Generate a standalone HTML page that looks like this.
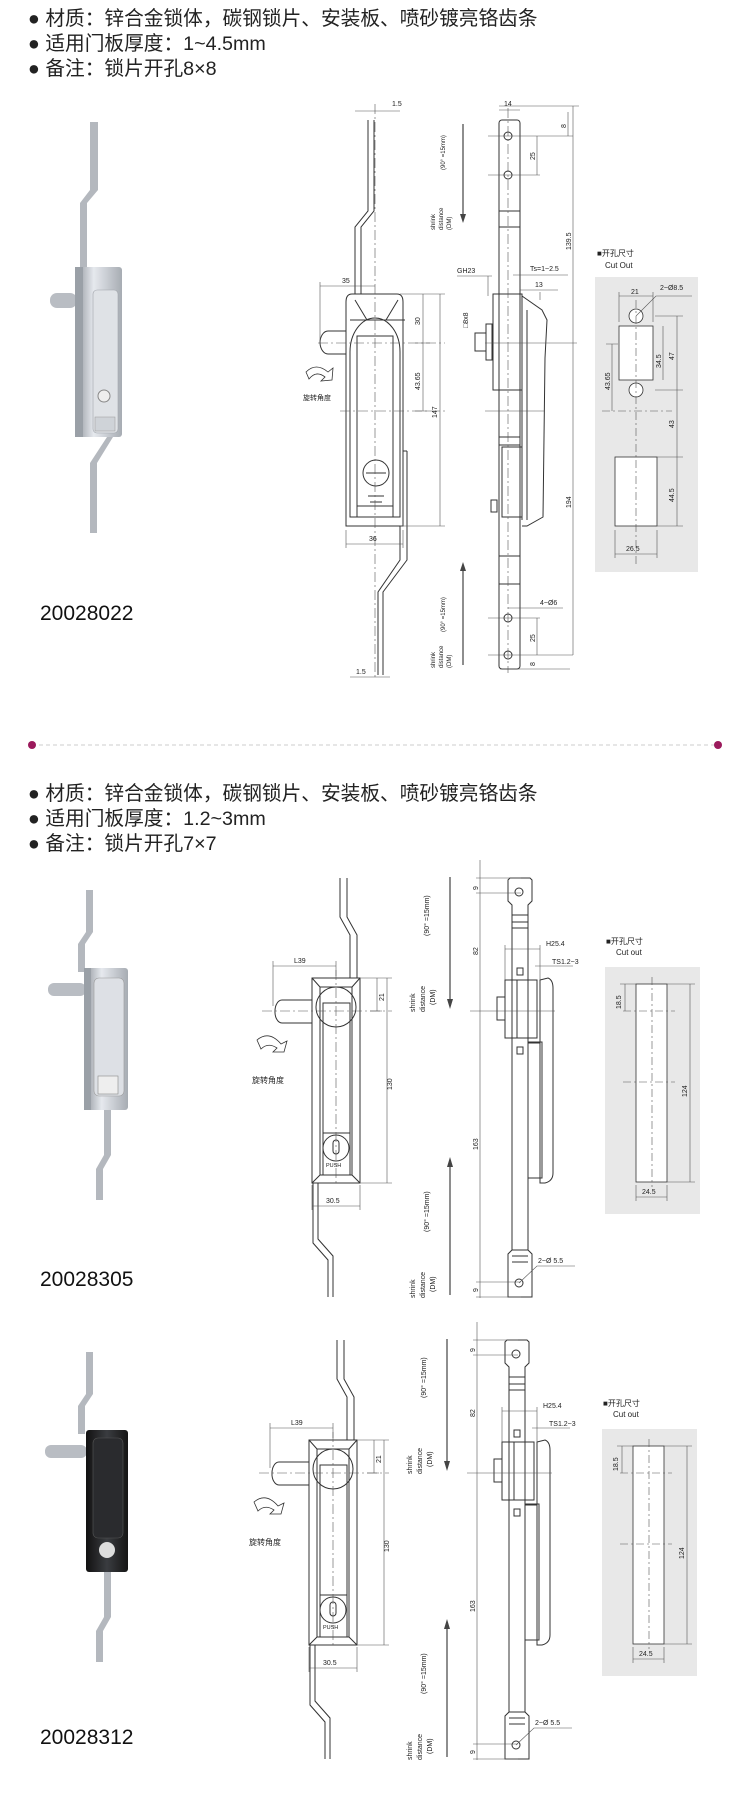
<!DOCTYPE html>
<html><head><meta charset="utf-8"><style>
body{margin:0;background:#fff;width:750px;height:1800px;overflow:hidden;position:relative;font-family:"Liberation Sans","Noto Sans CJK SC",sans-serif}
.t{position:absolute;left:28px;font-size:19.7px;line-height:25px;color:#222;white-space:nowrap}
.lab{position:absolute;left:40px;font-size:21px;color:#111}
svg{position:absolute;left:0;top:0}
svg text{font-family:"Liberation Sans","Noto Sans CJK SC",sans-serif;fill:#222}
</style></head><body>
<div class="t" style="top:7px">● 材质：锌合金锁体，碳钢锁片、安装板、喷砂镀亮铬齿条<br>● 适用门板厚度：1~4.5mm<br>● 备注：锁片开孔8×8</div>
<div class="lab" style="top:602px">20028022</div>
<div class="t" style="top:782px">● 材质：锌合金锁体，碳钢锁片、安装板、喷砂镀亮铬齿条<br>● 适用门板厚度：1.2~3mm<br>● 备注：锁片开孔7×7</div>
<div class="lab" style="top:1268px">20028305</div>
<div class="lab" style="top:1726px">20028312</div>
<svg width="750" height="1800" viewBox="0 0 750 1800">
<defs>
<linearGradient id="sv" x1="0" x2="1"><stop offset="0" stop-color="#8d9299"/><stop offset=".4" stop-color="#e6e9ee"/><stop offset="1" stop-color="#a7acb3"/></linearGradient>
<linearGradient id="bk" x1="0" x2="1"><stop offset="0" stop-color="#111"/><stop offset=".5" stop-color="#3a3c40"/><stop offset="1" stop-color="#151515"/></linearGradient>
</defs>
<line x1="32" y1="745" x2="718" y2="745" stroke="#ccc" stroke-dasharray="4 3"/>
<circle cx="32" cy="745" r="4" fill="#9b1a5c"/><circle cx="718" cy="745" r="4" fill="#9b1a5c"/>

<path d="M90 122h8v68l-11 13v64h-7v-64l10-13z" fill="#b4b8be"/>
<path d="M107 437h6l-16 26v70h-7v-70z" fill="#b4b8be"/>
<rect x="50" y="293" width="27" height="15" rx="7" fill="#b9bdc3"/>
<rect x="75" y="267" width="47" height="170" rx="3" fill="url(#sv)"/>
<rect x="75" y="267" width="8" height="170" fill="#9aa0a7"/>
<rect x="93" y="290" width="25" height="143" rx="4" fill="#dfe2e6" stroke="#a0a4aa" stroke-width=".6"/>
<circle cx="104" cy="396" r="6" fill="#eee" stroke="#888"/>
<rect x="95" y="417" width="20" height="14" fill="#cfd3d8" stroke="#999" stroke-width=".5"/>

<g fill="none" stroke="#333" stroke-width="1">
<path d="M368 120v91l-13 16v67M374 120v91l-13 16v67"/>
<path d="M400 526v34l-22 32v83M407 451v109l-24 32v83"/>
<path d="M403 451h4"/>
<path d="M352 294h45q6 0 6 8v224h-57v-224q0-8 6-8z"/>
<path d="M355 300l12 20M398 300l-12 20M350 320h55"/>
<path d="M350 352a25 34 0 0 1 50 0v165h-50z"/>
<path d="M357 336h36v181h-36z"/>
<path d="M320 343a8 12 0 0 1 8-12h18v23h-18a8 12 0 0 1-8-11z"/>
<circle cx="376" cy="473" r="13"/>
<path d="M366 473h20M368 496h16M370 502h12M357 506h36"/>
<g stroke="#555" stroke-width=".6">
<path d="M375 104v575" stroke-dasharray="10 3 2 3"/>
<path d="M318 343h127M340 411h105" stroke-dasharray="10 3 2 3"/>
<path d="M440 294v232M423 294v117M400 294h45M400 526h45M415 343h15M415 411h15"/>
<path d="M320 286h55M320 282v60M346 544h57M346 530v18M403 530v18"/>
<path d="M355 111h45M350 677h40"/></g>
</g>
<g font-size="7"><text x="392" y="106">1.5</text><text x="342" y="283">35</text><text x="369" y="541">36</text><text x="356" y="674">1.5</text>
<text transform="translate(420,325) rotate(-90)">30</text>
<text transform="translate(420,390) rotate(-90)">43.65</text>
<text transform="translate(437,418) rotate(-90)">147</text></g>
<path d="M306 372q10-10 22 0l5-4-1 12-11 1 4-4q-9-7-16 2z" fill="#fff" stroke="#333" stroke-width=".8"/>
<text x="303" y="400" font-size="7">旋转角度</text>
<g stroke="#444" stroke-width="1.2"><path d="M463 124v92M463 570v95"/></g>
<path d="M460 214l3 9 3-9zM460 571l3-9 3 9z" fill="#444"/>
<g font-size="6"><text transform="translate(445,170) rotate(-90)">(90° =15mm)</text><text transform="translate(435,230) rotate(-90)">shrink</text><text transform="translate(443,230) rotate(-90)">distance</text><text transform="translate(451,230) rotate(-90)">(DM)</text>
<text transform="translate(445,632) rotate(-90)">(90° =15mm)</text><text transform="translate(435,668) rotate(-90)">shrink</text><text transform="translate(443,668) rotate(-90)">distance</text><text transform="translate(451,668) rotate(-90)">(DM)</text></g>

<g fill="none" stroke="#333">
<rect x="499" y="120" width="21" height="549" rx="3"/>
<circle cx="508" cy="136" r="4"/><circle cx="508" cy="175" r="4"/><circle cx="508" cy="618" r="4"/><circle cx="508" cy="655" r="4"/>
<path d="M499 211h21M499 227h21M499 437h21M499 445h21M499 556h21M499 584h21"/>
<rect x="493" y="294" width="29" height="96"/>
<path d="M522 296l20 14 5 10-2 38 -2 159-16 9h-5"/>
<path d="M522 300v220M527 310v210"/>
<rect x="502" y="447" width="20" height="70"/>
<rect x="491" y="500" width="6" height="12"/>
<rect x="486" y="324" width="6" height="36"/><rect x="475" y="333" width="11" height="18"/>
<g stroke="#555" stroke-width=".6"><path d="M508 108v565" stroke-dasharray="10 3 2 3"/>
<path d="M573 106v549M485 343h92M488 136h85M488 175h52M537 136v39M488 618h52M537 618v37M485 411h60M488 655h85M568 112v24M500 669h70M499 106h80"/>
<path d="M457 276h35M488 276v20M513 275h55M520 290h38M499 110h21M540 292v8M563 608h-55"/></g>
</g>
<g font-size="7"><text x="504" y="106">14</text><text x="457" y="273">GH23</text><text x="530" y="271">Ts=1~2.5</text><text x="535" y="287">13</text><text x="540" y="605">4~Ø6</text>
<text transform="translate(571,250) rotate(-90)">139.5</text><text transform="translate(571,508) rotate(-90)">194</text>
<text transform="translate(535,160) rotate(-90)">25</text><text transform="translate(535,642) rotate(-90)">25</text>
<text transform="translate(566,128) rotate(-90)">8</text><text transform="translate(535,666) rotate(-90)">8</text>
<text transform="translate(468,328) rotate(-90)">□8x8</text></g>
<text x="597" y="256" font-size="8">■开孔尺寸</text><text x="605" y="268" font-size="8">Cut Out</text>
<rect x="595" y="277" width="103" height="295" fill="#e8e8e8"/>
<g fill="#fff" stroke="#333" stroke-width=".8"><rect x="619" y="326" width="34" height="54"/><rect x="615" y="457" width="42" height="69"/><circle cx="636" cy="316" r="7"/><circle cx="636" cy="390" r="7"/></g>
<g stroke="#555" stroke-width=".6" fill="none"><path d="M636 300v265M602 411h70" stroke-dasharray="8 3 2 3"/>
<path d="M663 326v54M677 316v210M655 316h28M655 390h28M655 457h28M655 526h28M612 344v67M606 344h12M619 296h34M619 292v30M653 292v30M615 554h42M615 530v28M657 530v28M636 316l20-20h36"/></g>
<g font-size="7"><text x="631" y="294">21</text><text x="660" y="290">2~Ø8.5</text><text x="626" y="551">26.5</text>
<text transform="translate(661,368) rotate(-90)">34.5</text><text transform="translate(674,360) rotate(-90)">47</text><text transform="translate(610,390) rotate(-90)">43.65</text><text transform="translate(674,428) rotate(-90)">43</text><text transform="translate(674,502) rotate(-90)">44.5</text></g>

<path d="M86 890h7v42l-8 12v28h-7v-28l8-12z" fill="#b4b8be"/>
<path d="M104 1110h7v45l-8 14v31h-7v-31l8-14z" fill="#b4b8be"/>
<rect x="48" y="983" width="38" height="13" rx="6" fill="#b9bdc3"/>
<rect x="84" y="968" width="44" height="142" rx="3" fill="url(#sv)"/>
<rect x="84" y="968" width="7" height="142" fill="#9aa0a7"/>
<rect x="94" y="978" width="30" height="118" rx="5" fill="#dde0e5" stroke="#999" stroke-width=".6"/>
<rect x="98" y="1076" width="20" height="18" fill="#eee" stroke="#888" stroke-width=".6"/>
<g>
<g fill="none" stroke="#333">
<path d="M340 878v39l10 18v43M347 878v39l10 18v43"/>
<path d="M313 1183v60l15 17v37M318 1183v56l15 17v41"/>
<rect x="312" y="978" width="48" height="205"/>
<path d="M320 987h32v188h-32zM312 978l8 9M360 978l-8 9M312 1183l8-8M360 1183l-8-8"/>
<circle cx="336" cy="1007" r="20"/>
<path d="M323 1003h27v130h-27z"/>
<path d="M323 1133h27v42h-27z"/><circle cx="336" cy="1148" r="13"/>
<rect x="333" y="1140" width="6" height="14" rx="3"/>
<path d="M275 1011a7 11 0 0 1 7-11h30v23h-30a7 11 0 0 1-7-12z"/>
<g stroke="#555" stroke-width=".6"><path d="M336 970v215" stroke-dasharray="10 3 2 3"/><path d="M262 1011h130" stroke-dasharray="10 3 2 3"/>
<path d="M273 966h63M273 961v45M336 961v15M377 978v33M387 978v205M360 978h32M360 1183h32M370 1011h12M312 1206h48M312 1185v25M360 1185v25"/></g>
</g>
<g font-size="7"><text x="294" y="963">L39</text><text x="326" y="1203">30.5</text><text x="326" y="1167" font-size="5.5">PUSH</text>
<text transform="translate(384,1001) rotate(-90)">21</text><text transform="translate(392,1090) rotate(-90)">130</text></g>
<path d="M257 1040q12-10 24 4l6-3-3 11-11 0 4-4q-9-6-16 1z" fill="#fff" stroke="#333" stroke-width=".8"/>
<text x="252" y="1083" font-size="8">旋转角度</text>
<g stroke="#444" stroke-width="1.2"><path d="M450 877v123M450 1165v130"/></g>
<path d="M447 999l3 10 3-10zM447 1167l3-10 3 10z" fill="#444"/>
<g font-size="7"><text transform="translate(429,936) rotate(-90)">(90° =15mm)</text><text transform="translate(415,1012) rotate(-90)">shrink</text><text transform="translate(425,1012) rotate(-90)">distance</text><text transform="translate(435,1005) rotate(-90)">(DM)</text>
<text transform="translate(429,1232) rotate(-90)">(90° =15mm)</text><text transform="translate(415,1298) rotate(-90)">shrink</text><text transform="translate(425,1298) rotate(-90)">distance</text><text transform="translate(435,1292) rotate(-90)">(DM)</text></g>
<g fill="none" stroke="#333">
<path d="M510 878h20l2 2v21l-4 4v345l4 4v43h-24v-43l4-4v-345l-4-4v-21z"/>
<path d="M512 915h16M512 922h16M512 928h16M512 1250h16M512 1256h16M512 1262h16"/>
<circle cx="519" cy="892" r="4"/><circle cx="519" cy="1283" r="4"/>
<rect x="505" y="980" width="32" height="58"/><path d="M517 980v58"/>
<path d="M540 980l8-2q5 2 5 10v185q0 8-8 10h-5z"/>
<path d="M528 1042h14v136h-14M528 1043h12v55"/>
<rect x="517" y="968" width="6" height="7"/><rect x="517" y="1047" width="6" height="7"/><rect x="497" y="997" width="8" height="23"/>
<g stroke="#555" stroke-width=".6"><path d="M480 860v438M476 878h45M476 893h45M470 1011h85M476 1282h45M476 1297h45M505 949h35M505 945v35M540 945v35M535 966h38M519 1283l18-17h38"/></g>
</g>
<g font-size="7"><text x="546" y="946">H25.4</text><text x="552" y="964">TS1.2~3</text><text x="538" y="1263">2~Ø 5.5</text>
<text transform="translate(478,890) rotate(-90)">9</text><text transform="translate(478,955) rotate(-90)">82</text><text transform="translate(478,1150) rotate(-90)">163</text><text transform="translate(478,1292) rotate(-90)">9</text></g>
<text x="606" y="944" font-size="8">■开孔尺寸</text><text x="616" y="955" font-size="8">Cut out</text>
<rect x="605" y="967" width="95" height="247" fill="#e8e8e8"/>
<rect x="636" y="984" width="31" height="198" fill="#fff" stroke="#333" stroke-width=".8"/>
<g stroke="#555" stroke-width=".6" fill="none"><path d="M652 977v210M623 1011h52M623 1082h52" stroke-dasharray="8 3 2 3"/><path d="M625 984v27M620 984h16M690 984v198M667 984h28M667 1182h28M636 1197h31M636 1185v16M667 1185v16"/></g>
<g font-size="7"><text x="642" y="1194">24.5</text><text transform="translate(621,1009) rotate(-90)">18.5</text><text transform="translate(687,1097) rotate(-90)">124</text></g>
</g>

<path d="M86 1352h7v42l-8 12v28h-7v-28l8-12z" fill="#b4b8be"/>
<path d="M104 1572h7v45l-8 14v31h-7v-31l8-14z" fill="#b4b8be"/>
<rect x="45" y="1445" width="42" height="13" rx="6" fill="#b9bdc3"/>
<rect x="86" y="1430" width="42" height="142" rx="3" fill="url(#bk)"/>
<rect x="93" y="1438" width="30" height="100" rx="5" fill="#2a2b2e" stroke="#555" stroke-width=".6"/>
<circle cx="107" cy="1550" r="8" fill="#ddd"/>

<g transform="translate(-3,462)">
<g fill="none" stroke="#333">
<path d="M340 878v39l10 18v43M347 878v39l10 18v43"/>
<path d="M313 1183v60l15 17v37M318 1183v56l15 17v41"/>
<rect x="312" y="978" width="48" height="205"/>
<path d="M320 987h32v188h-32zM312 978l8 9M360 978l-8 9M312 1183l8-8M360 1183l-8-8"/>
<circle cx="336" cy="1007" r="20"/>
<path d="M323 1003h27v130h-27z"/>
<path d="M323 1133h27v42h-27z"/><circle cx="336" cy="1148" r="13"/>
<rect x="333" y="1140" width="6" height="14" rx="3"/>
<path d="M275 1011a7 11 0 0 1 7-11h30v23h-30a7 11 0 0 1-7-12z"/>
<g stroke="#555" stroke-width=".6"><path d="M336 970v215" stroke-dasharray="10 3 2 3"/><path d="M262 1011h130" stroke-dasharray="10 3 2 3"/>
<path d="M273 966h63M273 961v45M336 961v15M377 978v33M387 978v205M360 978h32M360 1183h32M370 1011h12M312 1206h48M312 1185v25M360 1185v25"/></g>
</g>
<g font-size="7"><text x="294" y="963">L39</text><text x="326" y="1203">30.5</text><text x="326" y="1167" font-size="5.5">PUSH</text>
<text transform="translate(384,1001) rotate(-90)">21</text><text transform="translate(392,1090) rotate(-90)">130</text></g>
<path d="M257 1040q12-10 24 4l6-3-3 11-11 0 4-4q-9-6-16 1z" fill="#fff" stroke="#333" stroke-width=".8"/>
<text x="252" y="1083" font-size="8">旋转角度</text>
<g stroke="#444" stroke-width="1.2"><path d="M450 877v123M450 1165v130"/></g>
<path d="M447 999l3 10 3-10zM447 1167l3-10 3 10z" fill="#444"/>
<g font-size="7"><text transform="translate(429,936) rotate(-90)">(90° =15mm)</text><text transform="translate(415,1012) rotate(-90)">shrink</text><text transform="translate(425,1012) rotate(-90)">distance</text><text transform="translate(435,1005) rotate(-90)">(DM)</text>
<text transform="translate(429,1232) rotate(-90)">(90° =15mm)</text><text transform="translate(415,1298) rotate(-90)">shrink</text><text transform="translate(425,1298) rotate(-90)">distance</text><text transform="translate(435,1292) rotate(-90)">(DM)</text></g>
<g fill="none" stroke="#333">
<path d="M510 878h20l2 2v21l-4 4v345l4 4v43h-24v-43l4-4v-345l-4-4v-21z"/>
<path d="M512 915h16M512 922h16M512 928h16M512 1250h16M512 1256h16M512 1262h16"/>
<circle cx="519" cy="892" r="4"/><circle cx="519" cy="1283" r="4"/>
<rect x="505" y="980" width="32" height="58"/><path d="M517 980v58"/>
<path d="M540 980l8-2q5 2 5 10v185q0 8-8 10h-5z"/>
<path d="M528 1042h14v136h-14M528 1043h12v55"/>
<rect x="517" y="968" width="6" height="7"/><rect x="517" y="1047" width="6" height="7"/><rect x="497" y="997" width="8" height="23"/>
<g stroke="#555" stroke-width=".6"><path d="M480 860v438M476 878h45M476 893h45M470 1011h85M476 1282h45M476 1297h45M505 949h35M505 945v35M540 945v35M535 966h38M519 1283l18-17h38"/></g>
</g>
<g font-size="7"><text x="546" y="946">H25.4</text><text x="552" y="964">TS1.2~3</text><text x="538" y="1263">2~Ø 5.5</text>
<text transform="translate(478,890) rotate(-90)">9</text><text transform="translate(478,955) rotate(-90)">82</text><text transform="translate(478,1150) rotate(-90)">163</text><text transform="translate(478,1292) rotate(-90)">9</text></g>
<text x="606" y="944" font-size="8">■开孔尺寸</text><text x="616" y="955" font-size="8">Cut out</text>
<rect x="605" y="967" width="95" height="247" fill="#e8e8e8"/>
<rect x="636" y="984" width="31" height="198" fill="#fff" stroke="#333" stroke-width=".8"/>
<g stroke="#555" stroke-width=".6" fill="none"><path d="M652 977v210M623 1011h52M623 1082h52" stroke-dasharray="8 3 2 3"/><path d="M625 984v27M620 984h16M690 984v198M667 984h28M667 1182h28M636 1197h31M636 1185v16M667 1185v16"/></g>
<g font-size="7"><text x="642" y="1194">24.5</text><text transform="translate(621,1009) rotate(-90)">18.5</text><text transform="translate(687,1097) rotate(-90)">124</text></g>
</g>
</svg>
</body></html>
